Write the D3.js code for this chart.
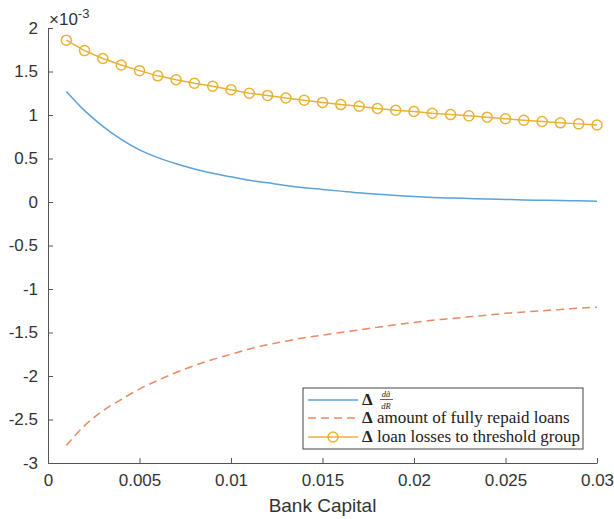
<!DOCTYPE html>
<html lang="en">
<head>
  <meta charset="UTF-8">
  <title>Bank capital deltas</title>
  <style>
    body { margin: 0; background: #fff; }
    svg { display: block; }
    text { font-family: "Liberation Sans", Arial, sans-serif; }
  </style>
  <script src="https://d3js.org/d3.v7.min.js"></script>
</head>
<body>
<script>
// bank capital (x), values in units of 1e-3
var capital = [0.001, 0.002, 0.003, 0.004, 0.005, 0.006, 0.007, 0.008, 0.009, 0.010,
               0.011, 0.012, 0.013, 0.014, 0.015, 0.016, 0.017, 0.018, 0.019, 0.020,
               0.021, 0.022, 0.023, 0.024, 0.025, 0.026, 0.027, 0.028, 0.029, 0.030];
var dadR = [1.27, 1.05, 0.87, 0.72, 0.60, 0.51, 0.44, 0.38, 0.33, 0.29,
            0.25, 0.22, 0.19, 0.165, 0.145, 0.125, 0.105, 0.09, 0.075, 0.063,
            0.053, 0.046, 0.04, 0.034, 0.029, 0.024, 0.02, 0.016, 0.013, 0.01];
var repaid = [-2.80, -2.57, -2.40, -2.27, -2.15, -2.05, -1.96, -1.88, -1.81, -1.75,
              -1.69, -1.64, -1.60, -1.56, -1.53, -1.50, -1.47, -1.44, -1.41, -1.385,
              -1.36, -1.34, -1.32, -1.30, -1.28, -1.265, -1.25, -1.235, -1.22, -1.21];
var losses = [1.86, 1.74, 1.65, 1.575, 1.51, 1.45, 1.405, 1.365, 1.33, 1.29,
              1.25, 1.225, 1.195, 1.17, 1.145, 1.12, 1.10, 1.075, 1.055, 1.04,
              1.02, 1.005, 0.99, 0.975, 0.957, 0.94, 0.925, 0.91, 0.898, 0.885];
var xTicks = [0, 0.005, 0.01, 0.015, 0.02, 0.025, 0.03];
var yTicks = [2, 1.5, 1, 0.5, 0, -0.5, -1, -1.5, -2, -2.5, -3];

var width = 614, height = 519;
var plotLeft = 48, plotRight = 597, plotTop = 28, plotBottom = 463;

var svg = d3.select("body").append("svg")
  .attr("width", width)
  .attr("height", height);

var x = d3.scaleLinear().domain([0, 0.03]).range([plotLeft, plotRight]);
var y = d3.scaleLinear().domain([-3, 2]).range([plotBottom, plotTop]);

var axisColor = "#555";
var textColor = "#333";

// axes, MATLAB style: ticks pointing inward
var xAxis = d3.axisBottom(x).tickValues(xTicks).tickSizeInner(-5).tickSizeOuter(0)
  .tickPadding(11).tickFormat(function (d) { return d; });
var yAxis = d3.axisLeft(y).tickValues(yTicks).tickSizeInner(-5).tickSizeOuter(0)
  .tickPadding(10).tickFormat(function (d) { return d; });

var gx = svg.append("g").attr("transform", "translate(0," + plotBottom + ")").call(xAxis);
var gy = svg.append("g").attr("transform", "translate(" + plotLeft + ",0)").call(yAxis);
[gx, gy].forEach(function (g) {
  g.select(".domain").attr("stroke", axisColor);
  g.selectAll(".tick line").attr("stroke", axisColor);
  g.selectAll(".tick text").attr("fill", textColor)
    .style("font-size", "17px").style("font-family", "'Liberation Sans', Arial, sans-serif");
});

// exponent label
var expo = svg.append("text").attr("x", plotLeft + 1).attr("y", 25)
  .attr("fill", textColor).style("font-size", "17px");
expo.append("tspan").text("\u00d710");
expo.append("tspan").attr("dy", -7).style("font-size", "13px").text("-3");

// x label
svg.append("text").attr("x", (plotLeft + plotRight) / 2).attr("y", 512)
  .attr("text-anchor", "middle").attr("fill", textColor)
  .style("font-size", "19px").text("Bank Capital");

var blue = "#5aa2d8", red = "#ea8a62", yellow = "#e9b234";

function line(vals, curve) {
  return d3.line()
    .curve(curve || d3.curveLinear)
    .x(function (d, i) { return x(capital[i]); })
    .y(function (d) { return y(d); })(vals);
}

svg.append("path").attr("d", line(dadR, d3.curveMonotoneX)).attr("fill", "none")
  .attr("stroke", blue).attr("stroke-width", 1.5);
svg.append("path").attr("d", line(repaid, d3.curveMonotoneX)).attr("fill", "none")
  .attr("stroke", red).attr("stroke-width", 1.5).attr("stroke-dasharray", "8,5");
svg.append("path").attr("d", line(losses)).attr("fill", "none")
  .attr("stroke", yellow).attr("stroke-width", 1.5);
svg.selectAll("circle.loss").data(losses).enter().append("circle")
  .attr("class", "loss")
  .attr("cx", function (d, i) { return x(capital[i]); })
  .attr("cy", function (d) { return y(d); })
  .attr("r", 5)
  .attr("fill", "none").attr("stroke", yellow).attr("stroke-width", 1.5);

// legend
var lg = svg.append("g").attr("transform", "translate(303,388)");
lg.append("rect").attr("width", 280).attr("height", 61)
  .attr("fill", "#fff").attr("stroke", "#444").attr("stroke-width", 1);

var serif = "'Liberation Serif', 'Times New Roman', serif";
var rows = [
  { color: blue, dash: null, marker: false, y: 12 },
  { color: red, dash: "8,5", marker: false, y: 30 },
  { color: yellow, dash: null, marker: true, y: 49 }
];
rows.forEach(function (r) {
  lg.append("line").attr("x1", 5).attr("x2", 55).attr("y1", r.y).attr("y2", r.y)
    .attr("stroke", r.color).attr("stroke-width", 1.5)
    .attr("stroke-dasharray", r.dash);
  if (r.marker) {
    lg.append("circle").attr("cx", 30).attr("cy", r.y).attr("r", 5)
      .attr("fill", "none").attr("stroke", r.color).attr("stroke-width", 1.5);
  }
});

function delta(yy) {
  return lg.append("text").attr("x", 59).attr("y", yy)
    .style("font-family", serif).style("font-size", "17px").attr("fill", "#222");
}
var t1 = delta(17);
t1.append("tspan").style("font-weight", "bold").text("\u0394");
lg.append("text").attr("x", 83).attr("y", 9).attr("text-anchor", "middle")
  .style("font-family", serif).style("font-size", "8.5px").style("font-style", "italic")
  .attr("fill", "#222").text("d\u00e3");
lg.append("line").attr("x1", 77).attr("x2", 90).attr("y1", 11.5).attr("y2", 11.5)
  .attr("stroke", "#222").attr("stroke-width", 0.7);
lg.append("text").attr("x", 83).attr("y", 20.5).attr("text-anchor", "middle")
  .style("font-family", serif).style("font-size", "8.5px").style("font-style", "italic")
  .attr("fill", "#222").text("dR");

var t2 = delta(35);
t2.append("tspan").style("font-weight", "bold").text("\u0394");
t2.append("tspan").text(" amount of fully repaid loans");
var t3 = delta(54);
t3.append("tspan").style("font-weight", "bold").text("\u0394");
t3.append("tspan").text(" loan losses to threshold group");
</script>
</body>
</html>
